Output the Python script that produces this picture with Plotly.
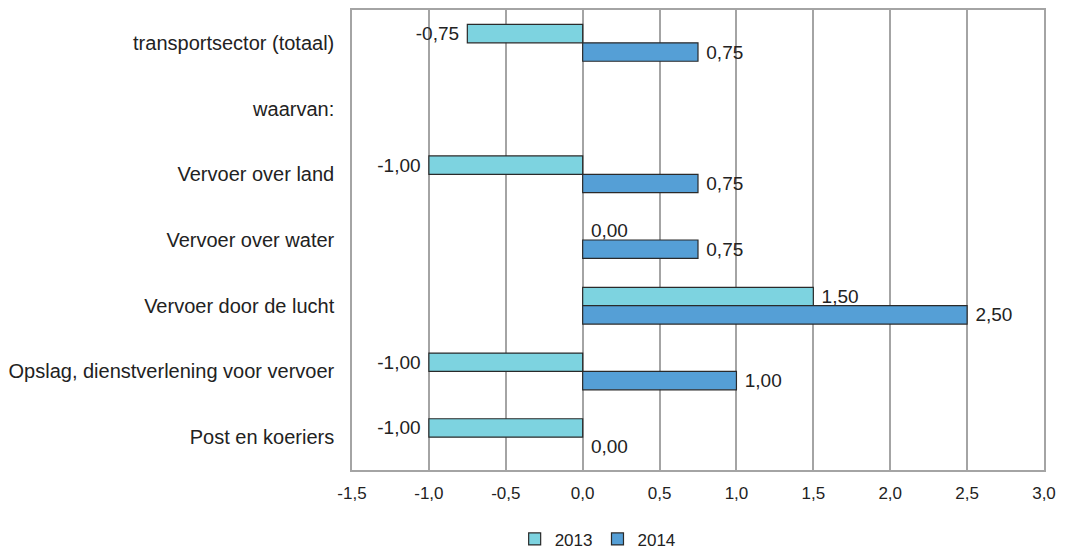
import plotly.graph_objects as go

categories = [
    "transportsector (totaal)",
    "waarvan:",
    "Vervoer over land",
    "Vervoer over water",
    "Vervoer door de lucht",
    "Opslag, dienstverlening voor vervoer",
    "Post en koeriers",
]
values_2013 = [-0.75, None, -1.00, 0.00, 1.50, -1.00, -1.00]
values_2014 = [0.75, None, 0.75, 0.75, 2.50, 1.00, 0.00]

tick_values = [-1.5, -1.0, -0.5, 0.0, 0.5, 1.0, 1.5, 2.0, 2.5, 3.0]
tick_labels = ["-1,5", "-1,0", "-0,5", "0,0", "0,5", "1,0", "1,5", "2,0", "2,5", "3,0"]

PAD = "\u00a0"


def fmt(v):
    """Value label with a little breathing room away from the bar end."""
    if v is None:
        return ""
    s = f"{v:.2f}".replace(".", ",")
    return s + PAD if v < 0 else PAD + s


FONT = "Liberation Sans, Arial, sans-serif"
TEXT = "#222222"
GRID = "#a4a4a4"

fig = go.Figure()
for name, vals, color in [
    ("2013", values_2013, "#7dd3e0"),
    ("2014", values_2014, "#559fd6"),
]:
    # no outline on zero-length bars, so they don't leave a stray stroke at 0
    outline = [0 if not v else 1.2 for v in vals]
    fig.add_trace(go.Bar(
        name=name,
        y=categories,
        x=vals,
        orientation="h",
        marker=dict(color=color, line=dict(color="#2a2a2a", width=outline)),
        text=[fmt(v) for v in vals],
        textposition="outside",
        constraintext="none",
        textfont=dict(family=FONT, size=19, color=TEXT),
        cliponaxis=False,
    ))

fig.update_layout(
    width=1066,
    height=550,
    margin=dict(l=352, r=22, t=10, b=80, autoexpand=False),
    paper_bgcolor="white",
    plot_bgcolor="white",
    barmode="group",
    bargap=0.44,
    bargroupgap=0,
    font=dict(family=FONT, size=17, color=TEXT),
    legend=dict(
        orientation="h",
        x=0.355, xanchor="center",
        y=-0.19, yanchor="bottom",
        font=dict(family=FONT, size=17, color=TEXT),
        itemwidth=30,
        tracegroupgap=0,
    ),
    showlegend=True,
)
fig.update_xaxes(
    range=[-1.5, 3.0],
    tickvals=tick_values,
    ticktext=tick_labels,
    showgrid=True,
    gridcolor=GRID,
    gridwidth=1.5,
    zeroline=False,
    showline=True,
    linecolor=GRID,
    linewidth=1.5,
    mirror=True,
    ticks="",
    ticklabelstandoff=7,
    tickfont=dict(family=FONT, size=17, color=TEXT),
)
fig.update_yaxes(
    autorange="reversed",
    showgrid=False,
    showline=True,
    linecolor=GRID,
    linewidth=1.5,
    mirror=True,
    ticks="",
    ticklabelstandoff=12,
    tickfont=dict(family=FONT, size=20, color=TEXT),
)

fig.write_html("out.html")
